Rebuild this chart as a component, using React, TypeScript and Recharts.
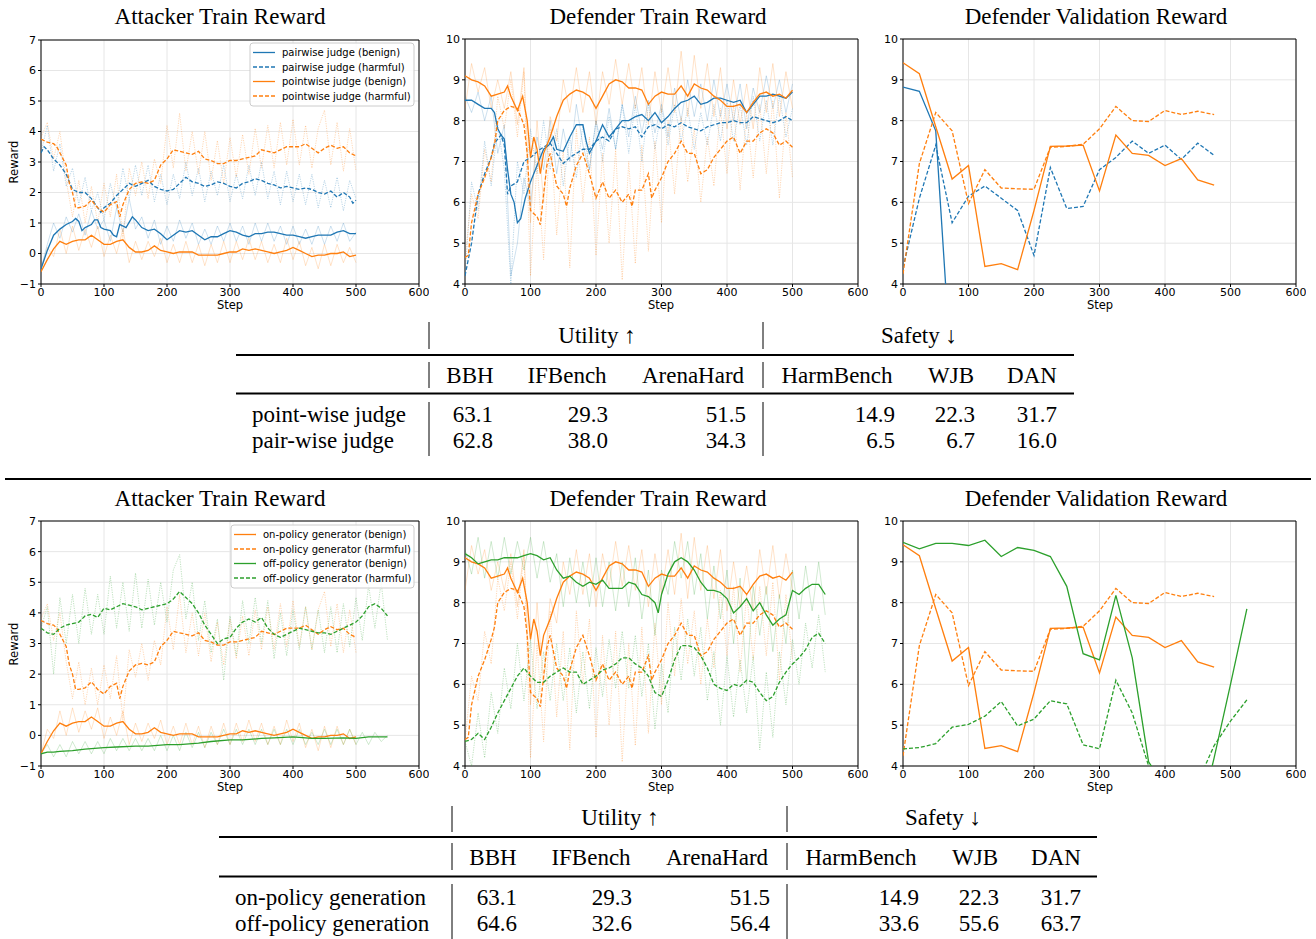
import React from 'react';
import { LineChart, Line, XAxis, YAxis, CartesianGrid, ReferenceArea } from 'recharts';

const BLUE = '#1f77b4';
const ORANGE = '#ff7f0e';
const GREEN = '#2ca02c';

const stepTicks = [0, 100, 200, 300, 400, 500, 600];
const attackerTicks = [-1, 0, 1, 2, 3, 4, 5, 6, 7];
const defenderTicks = [4, 5, 6, 7, 8, 9, 10];

// ---------- Attacker train reward (smoothed, [step, value]) ----------
const atkPairBenign = [[0,-0.5],[10,0.1],[20,0.6],[30,0.8],[40,0.95],[50,1.05],[55,1.15],[60,1.05],[65,0.75],[70,0.85],[80,0.95],[85,1.1],[90,1.1],[95,0.85],[100,0.8],[110,0.75],[115,0.6],[120,0.55],[125,0.95],[135,0.85],[145,1.2],[150,1.1],[160,0.85],[170,0.75],[180,0.8],[190,0.65],[200,0.45],[210,0.6],[220,0.75],[230,0.7],[240,0.75],[250,0.6],[260,0.45],[270,0.55],[280,0.55],[290,0.65],[300,0.75],[310,0.7],[320,0.6],[330,0.55],[340,0.65],[350,0.65],[360,0.7],[370,0.7],[380,0.65],[390,0.6],[400,0.6],[410,0.55],[420,0.5],[430,0.55],[440,0.6],[450,0.6],[460,0.6],[470,0.7],[480,0.75],[490,0.65],[500,0.65]];
const atkPairHarmful = [[0,3.3],[5,3.5],[10,3.4],[20,3.1],[30,2.9],[40,2.6],[50,2.1],[60,2.0],[70,2.0],[80,1.8],[90,1.5],[95,1.35],[100,1.5],[110,1.65],[120,1.9],[130,2.1],[140,2.3],[150,2.2],[160,2.3],[170,2.4],[180,2.2],[190,2.1],[200,2.05],[210,2.1],[220,2.3],[230,2.5],[240,2.35],[250,2.3],[260,2.2],[270,2.25],[280,2.35],[290,2.3],[300,2.2],[310,2.15],[320,2.3],[330,2.35],[340,2.45],[350,2.4],[360,2.3],[370,2.25],[380,2.15],[390,2.2],[400,2.15],[410,2.1],[420,2.15],[430,2.1],[440,2.0],[450,1.95],[460,2.05],[470,1.85],[480,2.0],[490,1.85],[495,1.65],[500,1.75]];
const atkPointBenign = [[0,-0.6],[10,-0.2],[20,0.15],[30,0.4],[40,0.3],[50,0.4],[60,0.45],[70,0.45],[80,0.6],[90,0.45],[100,0.3],[110,0.3],[120,0.4],[130,0.45],[140,0.2],[150,0.05],[160,0.05],[170,0.1],[180,0.25],[190,0.1],[200,0.05],[210,0.0],[220,0.05],[230,0.05],[240,0.05],[250,-0.05],[260,-0.05],[270,-0.05],[280,-0.05],[290,0.0],[300,0.05],[310,0.05],[320,0.15],[330,0.1],[340,0.15],[350,0.1],[360,0.05],[370,0.0],[380,0.05],[390,0.1],[400,0.2],[410,0.1],[420,0.0],[430,-0.1],[440,-0.05],[450,-0.05],[460,0.0],[470,0.0],[480,0.05],[490,-0.1],[500,-0.05]];
const atkPointHarmful = [[0,3.75],[10,3.65],[20,3.6],[25,3.5],[30,3.3],[40,2.9],[45,2.3],[50,2.0],[55,1.5],[60,1.5],[70,1.55],[80,1.75],[90,1.5],[100,1.35],[110,1.6],[120,1.7],[125,1.2],[130,1.6],[140,2.1],[150,2.3],[160,2.35],[170,2.3],[180,2.4],[190,2.9],[200,3.1],[210,3.4],[220,3.35],[230,3.3],[240,3.25],[250,3.35],[260,3.1],[270,3.05],[280,2.95],[290,2.95],[300,3.05],[310,3.05],[320,3.1],[330,3.15],[340,3.2],[350,3.4],[360,3.35],[370,3.3],[380,3.4],[390,3.5],[400,3.5],[410,3.5],[420,3.6],[430,3.45],[440,3.3],[450,3.45],[460,3.55],[470,3.45],[480,3.5],[490,3.3],[500,3.2]];
const atkOffBenign = [[0,-0.6],[10,-0.55],[20,-0.55],[30,-0.52],[50,-0.5],[70,-0.45],[100,-0.4],[120,-0.38],[150,-0.35],[170,-0.35],[200,-0.3],[220,-0.3],[250,-0.25],[270,-0.2],[300,-0.15],[320,-0.15],[350,-0.1],[370,-0.08],[400,-0.05],[430,-0.1],[450,-0.1],[480,-0.08],[500,-0.1],[520,-0.05],[550,-0.05]];
const atkOffHarmful = [[0,3.5],[10,3.35],[20,3.3],[30,3.5],[40,3.6],[50,3.65],[60,3.7],[70,3.9],[80,3.95],[90,3.85],[100,4.15],[110,4.1],[120,4.2],[130,4.3],[140,4.25],[150,4.2],[160,4.1],[170,4.15],[180,4.2],[190,4.25],[200,4.3],[210,4.45],[220,4.7],[230,4.5],[240,4.3],[250,4.0],[260,3.6],[270,3.3],[280,3.0],[290,3.15],[300,3.2],[310,3.5],[320,3.7],[330,3.8],[340,3.7],[350,3.85],[360,3.5],[370,3.3],[380,3.2],[390,3.3],[400,3.4],[410,3.5],[420,3.45],[430,3.4],[440,3.35],[450,3.35],[460,3.3],[470,3.4],[480,3.5],[490,3.6],[500,3.7],[510,3.9],[520,4.2],[530,4.3],[540,4.15],[550,3.9]];

// raw attacker values, one every 10 steps
const rawAtkPairBenign = [-0.5,0.3,1.0,0.5,1.2,0.7,1.3,0.6,1.4,0.8,1.1,0.4,1.5,0.7,1.8,0.8,1.2,0.5,1.1,0.3,0.9,0.4,1.1,0.5,1.0,0.3,0.8,0.3,0.9,0.4,1.0,0.4,0.9,0.3,1.0,0.4,1.0,0.4,0.9,0.3,0.9,0.3,0.8,0.3,0.9,0.3,0.9,0.4,1.0,0.4,0.7];
const rawAtkPairHarmful = [3.3,4.2,2.7,3.6,2.2,2.8,1.6,2.5,1.4,2.0,1.1,2.3,1.5,2.8,1.8,2.9,1.9,2.9,1.7,2.6,1.6,2.6,1.8,3.0,1.9,2.8,1.7,2.7,1.9,2.9,1.7,2.6,1.8,2.9,1.9,3.0,1.8,2.7,1.6,2.7,1.7,2.6,1.6,2.6,1.5,2.4,1.5,2.5,1.4,2.4,1.8];
const rawAtkPointBenign = [-0.6,0.2,-0.1,0.8,0.0,0.9,0.1,0.8,0.2,0.9,-0.1,0.6,0.0,0.8,-0.3,0.4,-0.2,0.4,-0.1,0.5,-0.3,0.3,-0.3,0.4,-0.3,0.3,-0.4,0.3,-0.3,0.4,-0.3,0.4,-0.2,0.5,-0.2,0.4,-0.3,0.3,-0.3,0.5,-0.2,0.4,-0.4,0.2,-0.5,0.3,-0.4,0.3,-0.3,0.2,-0.3];
const rawAtkPointHarmful = [3.8,4.3,3.1,4.0,2.4,1.2,2.4,1.0,2.2,1.0,2.3,1.2,2.6,0.5,2.8,1.9,3.0,1.8,3.1,2.3,4.2,2.8,4.6,2.7,4.0,2.6,4.0,2.4,3.7,2.3,3.8,2.5,3.9,2.6,4.1,2.8,4.2,2.8,4.3,2.9,4.4,2.9,4.2,2.8,4.1,4.7,2.9,4.3,2.7,4.1,2.7];
const rawAtkOffBenign = [-0.6,-0.3,-0.7,-0.3,-0.7,-0.2,-0.6,-0.2,-0.6,-0.2,-0.6,-0.1,-0.5,-0.1,-0.5,-0.1,-0.5,-0.1,-0.5,0.0,-0.5,0.0,-0.5,0.1,-0.4,0.1,-0.4,0.1,-0.3,0.2,-0.3,0.2,-0.3,0.2,-0.3,0.2,-0.3,0.2,-0.3,0.2,-0.3,0.2,-0.3,0.1,-0.3,0.2,-0.3,0.2,-0.3,0.2,-0.3,0.1,-0.3,0.1,-0.2,0.0];
const rawAtkOffHarmful = [3.5,4.2,2.0,4.5,3.0,4.6,3.0,4.8,3.3,4.6,3.3,5.2,3.5,5.0,3.4,5.3,3.5,5.1,3.6,5.0,3.7,5.4,5.9,3.8,5.0,3.1,4.4,2.7,3.8,1.8,3.9,2.6,4.4,3.0,4.5,3.0,4.4,2.5,4.0,2.6,4.1,2.8,4.2,2.8,4.1,2.7,4.2,2.7,4.3,2.9,4.5,3.1,4.9,3.5,5.0,3.1];

// ---------- Defender train reward ----------
const defPairBenign = [[0,8.5],[10,8.5],[20,8.4],[30,8.3],[40,8.3],[45,8.2],[50,7.8],[55,7.65],[60,7.55],[65,6.8],[70,6.2],[75,6.0],[80,5.5],[85,5.6],[92,6.1],[100,6.5],[110,6.9],[120,7.3],[128,7.4],[135,7.6],[140,7.3],[150,7.25],[160,7.6],[170,7.9],[180,7.9],[185,7.5],[190,7.2],[200,7.5],[210,7.9],[220,7.6],[230,7.8],[240,8.0],[250,8.0],[260,8.1],[270,8.15],[280,8.0],[290,8.2],[300,7.95],[310,8.1],[320,8.3],[330,8.45],[340,8.5],[350,8.6],[360,8.4],[370,8.45],[380,8.55],[390,8.55],[400,8.5],[410,8.45],[420,8.5],[430,8.2],[440,8.4],[450,8.6],[460,8.6],[470,8.65],[480,8.6],[490,8.55],[500,8.7]];
const defPairHarmful = [[0,4.2],[10,5.0],[20,6.2],[30,6.7],[40,7.1],[45,7.45],[55,7.65],[60,7.4],[65,6.2],[70,6.4],[80,6.5],[90,7.0],[100,7.1],[115,7.3],[130,7.45],[140,7.2],[150,6.95],[160,7.1],[170,7.2],[180,7.3],[190,7.3],[200,7.5],[210,7.6],[220,7.5],[230,7.8],[240,7.85],[250,7.8],[260,7.85],[270,7.6],[280,7.85],[290,7.9],[300,7.8],[310,7.9],[320,7.85],[330,7.95],[340,7.85],[350,7.8],[360,7.75],[370,7.85],[380,7.9],[390,7.95],[400,7.95],[410,8.0],[420,7.95],[430,7.95],[440,8.1],[450,8.05],[460,8.0],[470,7.95],[480,8.0],[490,8.1],[500,8.0]];
const defPointBenign = [[0,9.1],[10,9.0],[20,8.95],[30,8.85],[40,8.6],[50,8.65],[60,8.7],[65,8.85],[70,8.6],[80,8.25],[88,8.6],[95,8.0],[100,7.1],[105,7.6],[110,7.3],[115,6.7],[120,7.2],[130,7.6],[140,8.1],[150,8.5],[160,8.65],[170,8.75],[180,8.7],[190,8.6],[200,8.3],[210,8.6],[220,8.9],[230,9.0],[240,8.95],[250,8.8],[260,8.8],[270,8.75],[280,8.4],[290,8.6],[300,8.7],[310,8.65],[320,8.65],[330,8.85],[340,8.6],[350,8.9],[360,8.8],[370,8.75],[380,8.6],[390,8.5],[400,8.35],[410,8.35],[420,8.4],[430,8.2],[440,8.45],[450,8.65],[460,8.7],[470,8.6],[480,8.65],[490,8.55],[500,8.75]];
const defPointHarmful = [[0,4.65],[5,4.7],[10,5.5],[20,6.2],[30,6.6],[40,7.1],[45,7.4],[50,8.0],[60,8.25],[70,8.35],[80,8.3],[90,7.9],[95,7.2],[100,5.8],[110,5.65],[115,5.45],[120,6.2],[125,6.9],[130,7.2],[140,6.4],[150,6.2],[155,5.9],[160,6.35],[170,6.9],[180,7.2],[190,6.7],[200,6.1],[210,6.5],[220,6.1],[230,6.3],[240,6.0],[250,6.2],[255,5.9],[260,6.3],[270,6.3],[280,6.7],[285,6.1],[290,6.3],[300,6.6],[310,7.0],[320,7.2],[330,7.5],[340,7.2],[350,7.2],[360,6.7],[370,6.8],[380,7.1],[390,7.3],[400,7.5],[410,7.6],[420,7.2],[430,7.5],[440,7.5],[450,7.7],[460,7.8],[470,7.7],[480,7.4],[490,7.5],[500,7.35]];
const defOffBenign = [[0,9.2],[10,9.1],[20,8.95],[30,9.0],[40,9.05],[50,9.05],[60,9.1],[70,9.1],[80,9.1],[90,9.15],[100,9.2],[110,9.15],[120,9.05],[130,9.1],[140,8.8],[150,8.6],[160,8.65],[170,8.5],[180,8.4],[190,8.5],[200,8.45],[210,8.55],[220,8.35],[230,8.35],[240,8.35],[250,8.5],[260,8.45],[270,8.2],[280,8.15],[290,8.0],[295,7.75],[300,8.2],[310,8.7],[320,9.0],[330,9.1],[340,9.0],[350,8.8],[360,8.5],[370,8.3],[380,8.3],[390,8.25],[400,8.1],[410,7.75],[420,7.9],[430,8.1],[440,7.8],[450,8.0],[460,7.7],[470,7.45],[480,7.6],[490,7.7],[500,8.3],[510,8.2],[520,8.35],[530,8.45],[540,8.45],[550,8.2]];
const defOffHarmful = [[0,4.6],[10,4.65],[20,4.8],[30,4.65],[40,4.95],[50,5.3],[60,5.6],[70,5.9],[80,6.2],[90,6.4],[100,6.2],[110,6.05],[120,6.05],[130,6.2],[140,6.3],[150,6.4],[160,6.3],[170,6.3],[180,6.0],[190,6.1],[200,6.2],[210,6.35],[220,6.4],[230,6.5],[240,6.65],[250,6.65],[260,6.5],[270,6.4],[280,6.2],[290,5.8],[300,5.7],[310,6.1],[320,6.6],[330,6.95],[340,6.95],[350,6.9],[360,6.7],[370,6.4],[380,6.0],[390,5.9],[400,5.85],[410,6.0],[420,5.95],[430,6.1],[440,6.05],[450,5.8],[460,5.6],[470,5.7],[480,6.05],[490,6.3],[500,6.5],[510,6.65],[520,6.85],[530,7.15],[540,7.25],[550,7.0]];

const rawDefPairBenign = [8.6,8.2,8.7,8.0,8.6,7.2,7.9,4.2,5.0,6.6,5.9,7.6,6.8,8.0,6.7,7.8,7.0,8.4,7.4,6.8,8.0,7.3,8.3,7.3,8.4,7.6,8.6,7.7,8.5,7.7,8.4,7.6,8.8,8.0,9.0,8.1,8.9,8.0,9.0,8.1,8.9,8.0,8.9,7.8,8.8,8.2,9.1,8.3,9.0,8.2,8.9];
const rawDefPairHarmful = [4.2,6.5,5.8,7.5,6.4,7.9,6.8,4.0,7.0,6.2,7.8,6.7,8.0,6.8,7.8,6.4,7.6,6.6,7.9,6.8,8.0,7.0,8.1,7.3,8.4,7.2,8.4,7.0,8.4,7.3,8.3,7.4,8.4,7.5,8.3,7.3,8.2,7.4,8.4,7.5,8.5,7.5,8.4,7.4,8.6,7.5,8.5,7.4,8.6,7.6,8.3];
const rawDefPointBenign = [8.3,9.4,8.7,9.3,8.3,9.0,8.3,9.2,7.9,9.3,5.5,8.0,6.0,8.1,7.5,9.0,8.2,9.3,8.2,9.2,7.9,9.2,8.4,9.5,8.4,9.4,8.3,9.3,7.9,9.2,8.2,9.3,8.2,9.7,8.1,9.6,8.3,9.4,8.1,9.3,7.8,9.0,7.9,8.9,7.8,9.3,8.2,9.4,8.1,9.2,8.3];
const rawDefPointHarmful = [4.6,6.2,5.6,7.3,6.5,8.6,7.8,9.0,7.6,9.2,4.2,7.0,4.6,7.8,5.2,7.3,4.4,7.8,6.0,7.6,4.7,7.2,5.0,7.3,4.1,7.0,4.5,7.4,4.8,7.5,5.5,8.0,6.2,8.1,6.5,7.8,6.0,7.6,6.4,8.3,6.7,8.4,6.3,8.2,6.6,8.4,6.7,8.5,6.1,8.2,6.6];
const rawDefOffBenign = [9.3,8.7,9.6,8.6,9.5,8.6,9.6,8.7,9.5,8.8,9.6,8.6,9.5,8.5,9.2,7.9,9.1,8.0,9.0,7.9,9.1,7.9,9.0,7.8,9.0,7.9,9.1,7.6,8.8,7.2,8.8,8.2,9.5,8.6,9.5,8.2,9.2,7.6,8.9,7.6,8.8,7.0,8.6,6.0,8.4,7.2,8.4,6.8,8.2,7.0,8.8,7.6,8.9,7.8,9.0,7.7];
const rawDefOffHarmful = [4.6,4.0,5.3,4.2,5.8,4.8,6.4,5.4,7.0,5.6,7.1,5.4,6.8,5.6,7.0,5.6,6.9,5.3,6.8,5.4,6.9,5.7,7.1,5.9,7.3,5.9,7.2,5.7,7.0,4.9,6.5,5.3,7.4,6.1,7.6,6.2,7.4,5.6,6.8,5.0,6.7,5.2,6.6,5.3,6.7,4.4,6.3,4.7,6.8,5.5,7.1,6.0,7.5,6.4,7.7,6.3];

// ---------- Defender validation reward (every 25 steps) ----------
const valPairBenign = [[0,8.82],[25,8.72],[50,7.75],[75,1.5],[100,1.2],[125,1.3]];
const valPairHarmful = [[0,4.4],[25,6.1],[50,7.4],[75,5.5],[100,6.15],[125,6.4],[150,6.1],[175,5.8],[200,4.7],[225,6.85],[250,5.85],[275,5.9],[300,6.8],[325,7.1],[350,7.5],[375,7.2],[400,7.4],[425,7.05],[450,7.45],[475,7.15]];
const valPointBenign = [[0,9.42],[25,9.15],[50,7.85],[75,6.57],[100,6.9],[125,4.43],[150,4.5],[175,4.35],[200,5.8],[225,7.37],[250,7.38],[275,7.4],[300,6.28],[325,7.65],[350,7.2],[375,7.15],[400,6.9],[425,7.07],[450,6.55],[475,6.42]];
const valPointHarmful = [[0,4.25],[25,6.95],[50,8.2],[75,7.75],[100,5.97],[125,6.8],[150,6.35],[175,6.33],[200,6.32],[225,7.35],[250,7.37],[275,7.42],[300,7.8],[325,8.35],[350,8.0],[375,7.98],[400,8.25],[425,8.15],[450,8.23],[475,8.15]];
const valOffBenign = [[0,9.48],[25,9.32],[50,9.45],[75,9.45],[100,9.4],[125,9.53],[150,9.13],[175,9.35],[200,9.28],[225,9.13],[250,8.4],[275,6.75],[300,6.6],[325,8.18],[350,6.65],[375,4.1],[400,3.5],[425,3.0],[450,2.5],[475,4.2],[500,6.0],[525,7.85]];
const valOffHarmful = [[0,4.42],[25,4.45],[50,4.55],[75,4.95],[100,5.02],[125,5.22],[150,5.58],[175,4.98],[200,5.15],[225,5.6],[250,5.52],[275,4.52],[300,4.42],[325,6.1],[350,5.3],[375,4.0],[400,3.4],[425,3.0],[450,3.6],[475,4.5],[500,5.1],[525,5.62]];

// ---------- Tables ----------
const tableCols = ['BBH', 'IFBench', 'ArenaHard', 'HarmBench', 'WJB', 'DAN'];
const judgeRows = ['point-wise judge', 'pair-wise judge'];
const judgeVals = [['63.1','29.3','51.5','14.9','22.3','31.7'], ['62.8','38.0','34.3','6.5','6.7','16.0']];
const genRows = ['on-policy generation', 'off-policy generation'];
const genVals = [['63.1','29.3','51.5','14.9','22.3','31.7'], ['64.6','32.6','56.4','33.6','55.6','63.7']];

const judgeLegend = ['pairwise judge (benign)', 'pairwise judge (harmful)', 'pointwise judge (benign)', 'pointwise judge (harmful)'];
const genLegend = ['on-policy generator (benign)', 'on-policy generator (harmful)', 'off-policy generator (benign)', 'off-policy generator (harmful)'];

type Pt = { step: number; v: number };
const fromPairs = (p: number[][]): Pt[] => p.map(([step, v]) => ({ step, v }));
const fromRaw = (vals: number[]): Pt[] => vals.map((v, i) => ({ step: i * 10, v }));

type Spec = { data: Pt[]; color: string; kind: 'smooth' | 'smoothDash' | 'raw' | 'rawDot' };

const tickStyle = { fontSize: 11, fill: '#000', fontFamily: 'DejaVu Sans' };
const fmt = (v: number) => (v < 0 ? '\u2212' + Math.abs(v) : String(v));

function Panel({ x0, y0, x1, y1, yDomain, yTicks, series }: { x0: number; y0: number; x1: number; y1: number; yDomain: [number, number]; yTicks: number[]; series: Spec[] }) {
  const ML = 40, MT = 10, MR = 10, XH = 30;
  const pw = x1 - x0, ph = y1 - y0;
  return (
    <div style={{ position: 'absolute', left: x0 - ML, top: y0 - MT }}>
      <LineChart width={pw + ML + MR} height={ph + MT + XH} margin={{ top: MT, right: MR, left: 0, bottom: 0 }}>
        <CartesianGrid stroke="#e6e6e6" strokeWidth={1} />
        <XAxis type="number" dataKey="step" domain={[0, 600]} ticks={stepTicks} interval={0} allowDataOverflow height={XH}
          axisLine={false} tickLine={{ stroke: '#000' }} tickSize={3} tickMargin={1} tick={tickStyle} />
        <YAxis type="number" domain={yDomain} ticks={yTicks} interval={0} allowDataOverflow width={ML}
          axisLine={false} tickLine={{ stroke: '#000' }} tickSize={3} tickMargin={2} tick={tickStyle} tickFormatter={fmt} />
        {series.map((s, i) => (
          <Line key={i} data={s.data} dataKey="v" type="linear" dot={false} activeDot={false} isAnimationActive={false}
            stroke={s.color}
            strokeWidth={s.kind === 'raw' || s.kind === 'rawDot' ? 1 : 1.3}
            strokeOpacity={s.kind === 'raw' ? 0.22 : s.kind === 'rawDot' ? 0.3 : 1}
            strokeDasharray={s.kind === 'smoothDash' ? '4 2' : s.kind === 'rawDot' ? '1.2 1.2' : undefined} />
        ))}
        <ReferenceArea x1={0} x2={600} y1={yDomain[0]} y2={yDomain[1]} fill="none" fillOpacity={0} stroke="#000" strokeWidth={1} ifOverflow="visible" />
      </LineChart>
    </div>
  );
}

function Legend({ x, y, w, h, lineX0, lineX1, textX, rows, labels, specs }: any) {
  return (
    <g>
      <rect x={x} y={y} width={w} height={h} rx={3} fill="#fff" fillOpacity={0.85} stroke="#cccccc" strokeWidth={1} />
      {labels.map((l: string, i: number) => (
        <g key={l}>
          <line x1={lineX0} x2={lineX1} y1={rows[i]} y2={rows[i]} stroke={specs[i].color} strokeWidth={1.3} strokeDasharray={specs[i].dash ? '4 2' : undefined} />
          <text x={textX} y={rows[i]} dominantBaseline="central" fontFamily="DejaVu Sans" fontSize={10} fill="#000">{l}</text>
        </g>
      ))}
    </g>
  );
}

function Table({ vx1, vx2, rx0, rx1, yHead, yRule1, yCols, yRule2, yRows, headSeg, colSeg, rowSeg, utilX, safeX, colX, numRight, labelX, rows, vals }: any) {
  const f = { fontFamily: 'Liberation Serif', fontSize: 23, fill: '#000' };
  return (
    <g>
      <text x={utilX} y={yHead} textAnchor="middle" dominantBaseline="central" {...f}>Utility ↑</text>
      <text x={safeX} y={yHead} textAnchor="middle" dominantBaseline="central" {...f}>Safety ↓</text>
      <line x1={rx0} x2={rx1} y1={yRule1} y2={yRule1} stroke="#000" strokeWidth={1.8} />
      <line x1={rx0} x2={rx1} y1={yRule2} y2={yRule2} stroke="#000" strokeWidth={1.8} />
      {[vx1, vx2].map((vx: number) => (
        <g key={vx}>
          <line x1={vx} x2={vx} y1={headSeg[0]} y2={headSeg[1]} stroke="#000" strokeWidth={1} />
          <line x1={vx} x2={vx} y1={colSeg[0]} y2={colSeg[1]} stroke="#000" strokeWidth={1} />
          <line x1={vx} x2={vx} y1={rowSeg[0]} y2={rowSeg[1]} stroke="#000" strokeWidth={1} />
        </g>
      ))}
      {tableCols.map((c: string, i: number) => (
        <text key={c} x={colX[i]} y={yCols} textAnchor="middle" dominantBaseline="central" {...f}>{c}</text>
      ))}
      {rows.map((r: string, ri: number) => (
        <g key={r}>
          <text x={labelX} y={yRows[ri]} dominantBaseline="central" {...f}>{r}</text>
          {vals[ri].map((v: string, ci: number) => (
            <text key={ci} x={numRight[ci]} y={yRows[ri]} textAnchor="end" dominantBaseline="central" {...f}>{v}</text>
          ))}
        </g>
      ))}
    </g>
  );
}

export default function App() {
  const s1: Spec[] = [
    { data: fromRaw(rawAtkPairBenign), color: BLUE, kind: 'raw' },
    { data: fromRaw(rawAtkPairHarmful), color: BLUE, kind: 'rawDot' },
    { data: fromRaw(rawAtkPointBenign), color: ORANGE, kind: 'raw' },
    { data: fromRaw(rawAtkPointHarmful), color: ORANGE, kind: 'rawDot' },
    { data: fromPairs(atkPairBenign), color: BLUE, kind: 'smooth' },
    { data: fromPairs(atkPairHarmful), color: BLUE, kind: 'smoothDash' },
    { data: fromPairs(atkPointBenign), color: ORANGE, kind: 'smooth' },
    { data: fromPairs(atkPointHarmful), color: ORANGE, kind: 'smoothDash' },
  ];
  const s2: Spec[] = [
    { data: fromRaw(rawDefPairBenign), color: BLUE, kind: 'raw' },
    { data: fromRaw(rawDefPairHarmful), color: BLUE, kind: 'rawDot' },
    { data: fromRaw(rawDefPointBenign), color: ORANGE, kind: 'raw' },
    { data: fromRaw(rawDefPointHarmful), color: ORANGE, kind: 'rawDot' },
    { data: fromPairs(defPairBenign), color: BLUE, kind: 'smooth' },
    { data: fromPairs(defPairHarmful), color: BLUE, kind: 'smoothDash' },
    { data: fromPairs(defPointBenign), color: ORANGE, kind: 'smooth' },
    { data: fromPairs(defPointHarmful), color: ORANGE, kind: 'smoothDash' },
  ];
  const s3: Spec[] = [
    { data: fromPairs(valPairBenign), color: BLUE, kind: 'smooth' },
    { data: fromPairs(valPairHarmful), color: BLUE, kind: 'smoothDash' },
    { data: fromPairs(valPointBenign), color: ORANGE, kind: 'smooth' },
    { data: fromPairs(valPointHarmful), color: ORANGE, kind: 'smoothDash' },
  ];
  const s4: Spec[] = [
    { data: fromRaw(rawAtkPointBenign), color: ORANGE, kind: 'raw' },
    { data: fromRaw(rawAtkPointHarmful), color: ORANGE, kind: 'rawDot' },
    { data: fromRaw(rawAtkOffBenign), color: GREEN, kind: 'raw' },
    { data: fromRaw(rawAtkOffHarmful), color: GREEN, kind: 'rawDot' },
    { data: fromPairs(atkPointBenign), color: ORANGE, kind: 'smooth' },
    { data: fromPairs(atkPointHarmful), color: ORANGE, kind: 'smoothDash' },
    { data: fromPairs(atkOffBenign), color: GREEN, kind: 'smooth' },
    { data: fromPairs(atkOffHarmful), color: GREEN, kind: 'smoothDash' },
  ];
  const s5: Spec[] = [
    { data: fromRaw(rawDefPointBenign), color: ORANGE, kind: 'raw' },
    { data: fromRaw(rawDefPointHarmful), color: ORANGE, kind: 'rawDot' },
    { data: fromRaw(rawDefOffBenign), color: GREEN, kind: 'raw' },
    { data: fromRaw(rawDefOffHarmful), color: GREEN, kind: 'rawDot' },
    { data: fromPairs(defPointBenign), color: ORANGE, kind: 'smooth' },
    { data: fromPairs(defPointHarmful), color: ORANGE, kind: 'smoothDash' },
    { data: fromPairs(defOffBenign), color: GREEN, kind: 'smooth' },
    { data: fromPairs(defOffHarmful), color: GREEN, kind: 'smoothDash' },
  ];
  const s6: Spec[] = [
    { data: fromPairs(valPointBenign), color: ORANGE, kind: 'smooth' },
    { data: fromPairs(valPointHarmful), color: ORANGE, kind: 'smoothDash' },
    { data: fromPairs(valOffBenign), color: GREEN, kind: 'smooth' },
    { data: fromPairs(valOffHarmful), color: GREEN, kind: 'smoothDash' },
  ];

  const titleF = { fontFamily: 'Liberation Serif', fontSize: 23, fill: '#000' };
  const labF = { fontFamily: 'DejaVu Sans', fontSize: 11.5, fill: '#000' };
  const titles = [['Attacker Train Reward', 220], ['Defender Train Reward', 658], ['Defender Validation Reward', 1096]];
  const stepX = [230, 661, 1100];

  return (
    <div style={{ position: 'absolute', left: 0, top: 0, width: 1316, height: 939, background: '#fff', overflow: 'hidden' }}>
      <Panel x0={41} y0={40} x1={419} y1={284} yDomain={[-1, 7]} yTicks={attackerTicks} series={s1} />
      <Panel x0={465} y0={39} x1={858} y1={284} yDomain={[4, 10]} yTicks={defenderTicks} series={s2} />
      <Panel x0={903} y0={39} x1={1296} y1={284} yDomain={[4, 10]} yTicks={defenderTicks} series={s3} />
      <Panel x0={41} y0={521} x1={419} y1={766} yDomain={[-1, 7]} yTicks={attackerTicks} series={s4} />
      <Panel x0={465} y0={521} x1={858} y1={766} yDomain={[4, 10]} yTicks={defenderTicks} series={s5} />
      <Panel x0={903} y0={521} x1={1296} y1={766} yDomain={[4, 10]} yTicks={defenderTicks} series={s6} />
      <svg width={1316} height={939} style={{ position: 'absolute', left: 0, top: 0, pointerEvents: 'none' }}>
        {titles.map(([t, x]) => (
          <g key={String(t)}>
            <text x={x as number} y={16} textAnchor="middle" dominantBaseline="central" {...titleF}>{t}</text>
            <text x={x as number} y={498} textAnchor="middle" dominantBaseline="central" {...titleF}>{t}</text>
          </g>
        ))}
        {stepX.map((x) => (
          <g key={x}>
            <text x={x} y={305} textAnchor="middle" dominantBaseline="central" {...labF}>Step</text>
            <text x={x} y={787} textAnchor="middle" dominantBaseline="central" {...labF}>Step</text>
          </g>
        ))}
        <text transform="translate(14,162) rotate(-90)" textAnchor="middle" dominantBaseline="central" {...labF}>Reward</text>
        <text transform="translate(14,644) rotate(-90)" textAnchor="middle" dominantBaseline="central" {...labF}>Reward</text>
        <Legend x={250} y={43} w={164} h={63} lineX0={253} lineX1={275} textX={282} rows={[52.5, 67, 81.5, 96]} labels={judgeLegend}
          specs={[{ color: BLUE }, { color: BLUE, dash: true }, { color: ORANGE }, { color: ORANGE, dash: true }]} />
        <Legend x={231} y={525} w={183} h={63} lineX0={234} lineX1={256} textX={263} rows={[534.5, 549, 563.5, 578]} labels={genLegend}
          specs={[{ color: ORANGE }, { color: ORANGE, dash: true }, { color: GREEN }, { color: GREEN, dash: true }]} />
        <Table vx1={429} vx2={763} rx0={236} rx1={1074} yHead={335} yRule1={355} yCols={375} yRule2={393.5} yRows={[414, 440]}
          headSeg={[322, 349]} colSeg={[362, 388]} rowSeg={[402, 456]} utilX={597} safeX={919}
          colX={[470, 567, 693, 837, 951, 1032]} numRight={[493, 608, 746, 895, 975, 1057]} labelX={252} rows={judgeRows} vals={judgeVals} />
        <line x1={5} x2={1311} y1={479} y2={479} stroke="#000" strokeWidth={2} />
        <Table vx1={452} vx2={787} rx0={219} rx1={1097} yHead={817} yRule1={837} yCols={857} yRule2={876.5} yRows={[897, 923]}
          headSeg={[806, 832]} colSeg={[843, 870]} rowSeg={[884, 939]} utilX={620} safeX={943}
          colX={[493, 591, 717, 861, 975, 1056]} numRight={[517, 632, 770, 919, 999, 1081]} labelX={235} rows={genRows} vals={genVals} />
      </svg>
    </div>
  );
}
